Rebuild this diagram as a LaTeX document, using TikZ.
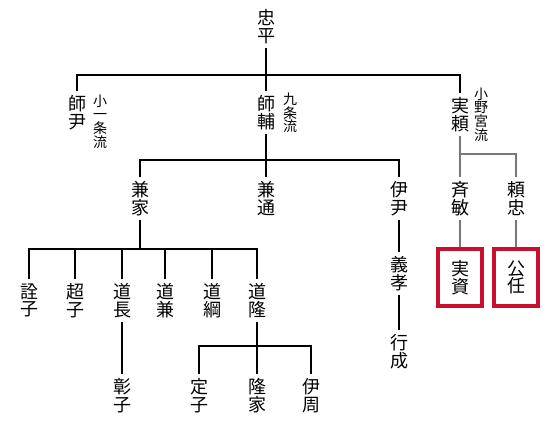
\documentclass[tikz,border=0pt]{standalone}
\usepackage{fontspec}
\newfontfamily\jp{Noto Sans CJK JP}
\definecolor{boxred}{RGB}{200,16,46}
\definecolor{lgray}{RGB}{120,120,120}
\begin{document}
\begin{tikzpicture}[x=1pt,y=-1pt,
  nm/.style={font=\jp\fontsize{18}{17.5}\selectfont, align=center, inner xsep=0pt, inner ysep=4pt},
  sm/.style={font=\jp\fontsize{14}{13.7}\selectfont, align=center, inner sep=0pt},
  ln/.style={line width=1.2pt, black},
  gl/.style={line width=1.6pt, lgray},
  rb/.style={nm, draw=boxred, line width=4pt, minimum width=44pt, minimum height=57pt}]
\useasboundingbox[fill=white] (0,0) rectangle (548,432);
% names
\node[nm] (tad) at (266,26.5) {忠\\平};
\node[nm] (moro) at (77,112.5) {師\\尹};
\node[sm] (s1) at (100,121.5) {小\\一\\条\\流};
\node[nm] (msk) at (266,112.5) {師\\輔};
\node[sm] (s2) at (290,113) {九\\条\\流};
\node[nm] (sane) at (460,114.5) {実\\頼};
\node[sm] (s3) at (481,114.5) {小\\野\\宮\\流};
\node[nm] (kaneie) at (140,198.5) {兼\\家};
\node[nm] (kanemichi) at (266,198.5) {兼\\通};
\node[nm] (kore) at (399,198.5) {伊\\尹};
\node[nm] (tadatoshi) at (460,198.5) {斉\\敏};
\node[nm] (yoritada) at (516,198.5) {頼\\忠};
\node[rb] (sanesuke) at (460,277.5) {実\\資};
\node[rb] (kinto) at (516,277.5) {公\\任};
\node[nm] (yoshitaka) at (399,273.5) {義\\孝};
\node[nm] (yukinari) at (399,351.5) {行\\成};
\node[nm] (senshi) at (29,300.5) {詮\\子};
\node[nm] (choushi) at (75,300.5) {超\\子};
\node[nm] (michinaga) at (122,300.5) {道\\長};
\node[nm] (michikane) at (165,300.5) {道\\兼};
\node[nm] (michitsuna) at (212,300.5) {道\\綱};
\node[nm] (michitaka) at (257,300.5) {道\\隆};
\node[nm] (shoushi) at (122,395.5) {彰\\子};
\node[nm] (teishi) at (199,395.5) {定\\子};
\node[nm] (takaie) at (257,395.5) {隆\\家};
\node[nm] (korechika) at (311,395.5) {伊\\周};
% bars
\coordinate (bA) at (266,75);
\coordinate (bB) at (266,160);
\coordinate (bC) at (460,154);
\coordinate (bD) at (140,249);
\coordinate (bE) at (257,346);
% connectors
\draw[ln] (tad.south) -- (msk.north);
\draw[ln] (moro.north) -- (moro.north |- bA) -- (sane.north |- bA) -- (sane.north);
\draw[ln] (msk.south) -- (kanemichi.north);
\draw[ln] (kaneie.north) -- (kaneie.north |- bB) -- (kore.north |- bB) -- (kore.north);
\draw[gl] (sane.south) -- (tadatoshi.north);
\draw[gl] (sane.south |- bC) -- (yoritada.north |- bC) -- (yoritada.north);
\draw[gl] (tadatoshi.south) -- (sanesuke.north);
\draw[gl] (yoritada.south) -- (kinto.north);
\draw[ln] (kore.south) -- (yoshitaka.north);
\draw[ln] (yoshitaka.south) -- (yukinari.north);
\draw[ln] (kaneie.south) -- (kaneie.south |- bD);
\draw[ln] (senshi.north) -- (senshi.north |- bD) -- (michitaka.north |- bD) -- (michitaka.north);
\foreach \n in {choushi, michinaga, michikane, michitsuna}
  \draw[ln] (\n.north) -- (\n.north |- bD);
\draw[ln] (michinaga.south) -- (shoushi.north);
\draw[ln] (michitaka.south) -- (takaie.north);
\draw[ln] (teishi.north) -- (teishi.north |- bE) -- (korechika.north |- bE) -- (korechika.north);
\end{tikzpicture}
\end{document}
